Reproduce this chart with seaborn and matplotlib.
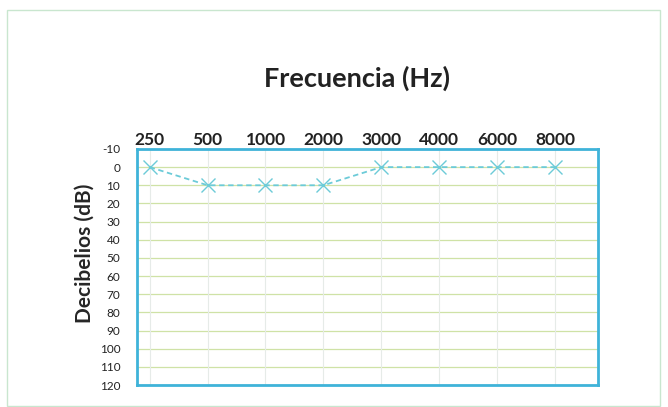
import matplotlib
matplotlib.use("Agg")
from matplotlib import pyplot as plt
from matplotlib.patches import Rectangle
import seaborn as sns
import pandas as pd

freqs = ["250", "500", "1000", "2000", "3000", "4000", "6000", "8000"]
db = [0, 10, 10, 10, 0, 0, 0, 0]
yticks = list(range(-10, 130, 10))

sns.set_style("white")
plt.rcParams['font.family'] = ['Lato', 'DejaVu Sans']

df = pd.DataFrame({"freq": freqs, "db": db})

fig = plt.figure(figsize=(6.68, 4.07), dpi=100)
ax = fig.add_axes([0.205, 0.054, 0.69, 0.58])

sns.lineplot(data=df, x="freq", y="db", ax=ax, color="#6ccbd8",
             linestyle=(0, (3, 2)), linewidth=1.3, marker="x",
             markersize=10, markeredgewidth=1.0, markeredgecolor="#6ccbd8")

ax.set_xlim(-0.22, 7.74)
ax.set_ylim(120, -10)
ax.set_yticks(yticks)
ax.set_yticklabels([str(v) for v in yticks], fontsize=8.5, color="#222222")
ax.xaxis.tick_top()
ax.set_xticks(range(len(freqs)))
ax.set_xticklabels(freqs, fontsize=12.5, fontweight="bold", color="#222222")
ax.tick_params(axis="x", length=0, pad=1)
ax.tick_params(axis="y", length=0, pad=12)
ax.set_xlabel("")
ax.set_ylabel("Decibelios (dB)", fontsize=15, fontweight="bold")
ax.yaxis.set_label_coords(-0.091, 0.56)

# gridlines
for v in yticks:
    ax.axhline(v, color="#cfe2a6", linewidth=0.9, zorder=0)
for i in range(len(freqs)):
    ax.axvline(i, color="#e6ebe8", linewidth=0.8, zorder=0)

for s in ax.spines.values():
    s.set_color("#3fb3d9")
    s.set_linewidth(2)

fig.text(0.535, 0.808, "Frecuencia (Hz)", ha="center", va="center",
         fontsize=19.5, fontweight="bold", color="#222222")

# outer chart frame
fig.patches.append(Rectangle((0.011, 0.002), 0.977, 0.973, transform=fig.transFigure,
                             fill=False, edgecolor="#c9e6cf", linewidth=1))

fig.savefig("out.png", dpi=100)
